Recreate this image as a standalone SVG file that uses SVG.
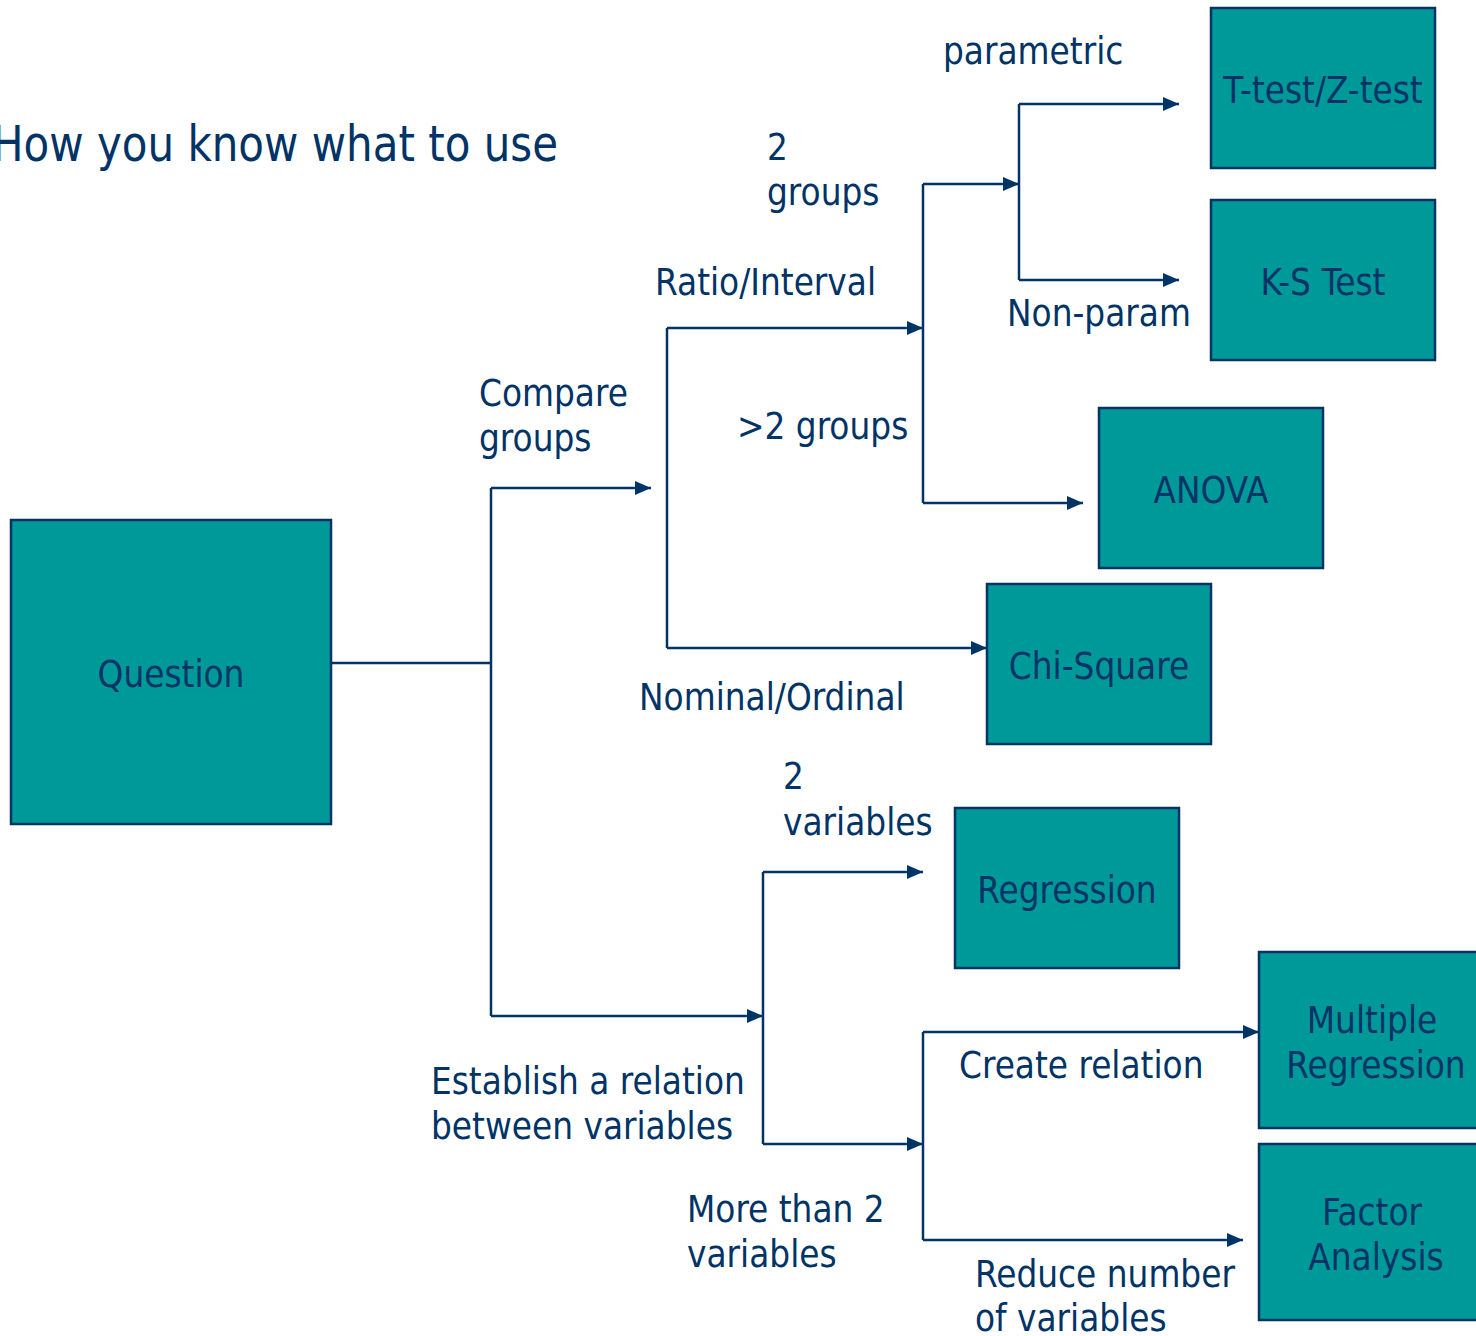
<svg xmlns="http://www.w3.org/2000/svg" width="1476" height="1336" viewBox="0 0 1476 1336">
<style>
text{font-family:'DejaVu Sans Condensed','DejaVu Sans',sans-serif;fill:#003366;font-size:36.5px}
.box{fill:#009999;stroke:#003366;stroke-width:2.5}
.c{text-anchor:middle}
.ln{fill:none;stroke:#003366;stroke-width:2.5}
.ar{fill:none;stroke:#003366;stroke-width:2.5;marker-end:url(#ah)}
</style>
<defs>
<marker id="ah" markerWidth="17" markerHeight="14" refX="16" refY="7" orient="auto" markerUnits="userSpaceOnUse">
<path d="M0,0 L16,7 L0,14 Z" fill="#003366"/>
</marker>
</defs>
<rect width="1476" height="1336" fill="#ffffff"/>
<text x="-8" y="161" textLength="566" lengthAdjust="spacingAndGlyphs" style="font-size:49px">How you know what to use</text>

<g id="connectors">
<path class="ln" d="M331,663 H491 M491,488 V1016"/>
<path class="ar" d="M491,488 H651"/>
<path class="ar" d="M491,1016 H763"/>
<path class="ln" d="M667,328 V648"/>
<path class="ar" d="M667,328 H923"/>
<path class="ar" d="M667,648 H987"/>
<path class="ln" d="M923,184 V503"/>
<path class="ar" d="M923,184 H1019"/>
<path class="ar" d="M923,503 H1083"/>
<path class="ln" d="M1019,104 V280"/>
<path class="ar" d="M1019,104 H1179"/>
<path class="ar" d="M1019,280 H1179"/>
<path class="ln" d="M763,872 V1144"/>
<path class="ar" d="M763,872 H923"/>
<path class="ar" d="M763,1144 H923"/>
<path class="ln" d="M923,1032 V1240"/>
<path class="ar" d="M923,1032 H1259"/>
<path class="ar" d="M923,1240 H1243"/>
</g>

<g id="labels">
<text x="943" y="64">parametric</text>
<text x="767" y="160">2</text>
<text x="767" y="205">groups</text>
<text x="655" y="295">Ratio/Interval</text>
<text x="1007" y="326">Non-param</text>
<text x="479" y="406">Compare</text>
<text x="479" y="451">groups</text>
<text x="737" y="439">&gt;2 groups</text>
<text x="639" y="710">Nominal/Ordinal</text>
<text x="783" y="789">2</text>
<text x="783" y="835">variables</text>
<text x="431" y="1094">Establish a relation</text>
<text x="431" y="1139">between variables</text>
<text x="687" y="1222">More than 2</text>
<text x="687" y="1267">variables</text>
<text x="959" y="1078">Create relation</text>
<text x="975" y="1287">Reduce number</text>
<text x="975" y="1331">of variables</text>
</g>

<g id="question"><rect class="box" x="11" y="520" width="320" height="304"/><text class="c" x="171" y="687">Question</text></g>
<g id="ttest"><rect class="box" x="1211" y="8" width="224" height="160"/><text class="c" x="1323" y="103">T-test/Z-test</text></g>
<g id="kstest"><rect class="box" x="1211" y="200" width="224" height="160"/><text class="c" x="1323" y="295">K-S Test</text></g>
<g id="anova"><rect class="box" x="1099" y="408" width="224" height="160"/><text class="c" x="1211" y="503">ANOVA</text></g>
<g id="chisquare"><rect class="box" x="987" y="584" width="224" height="160"/><text class="c" x="1099" y="679">Chi-Square</text></g>
<g id="regression"><rect class="box" x="955" y="808" width="224" height="160"/><text class="c" x="1067" y="903">Regression</text></g>
<g id="multreg"><rect class="box" x="1259" y="952" width="240" height="176"/><text class="c" x="1372" y="1033">Multiple</text><text class="c" x="1376" y="1078">Regression</text></g>
<g id="factor"><rect class="box" x="1259" y="1144" width="240" height="176"/><text class="c" x="1372" y="1225">Factor</text><text class="c" x="1376" y="1270">Analysis</text></g>
</svg>
